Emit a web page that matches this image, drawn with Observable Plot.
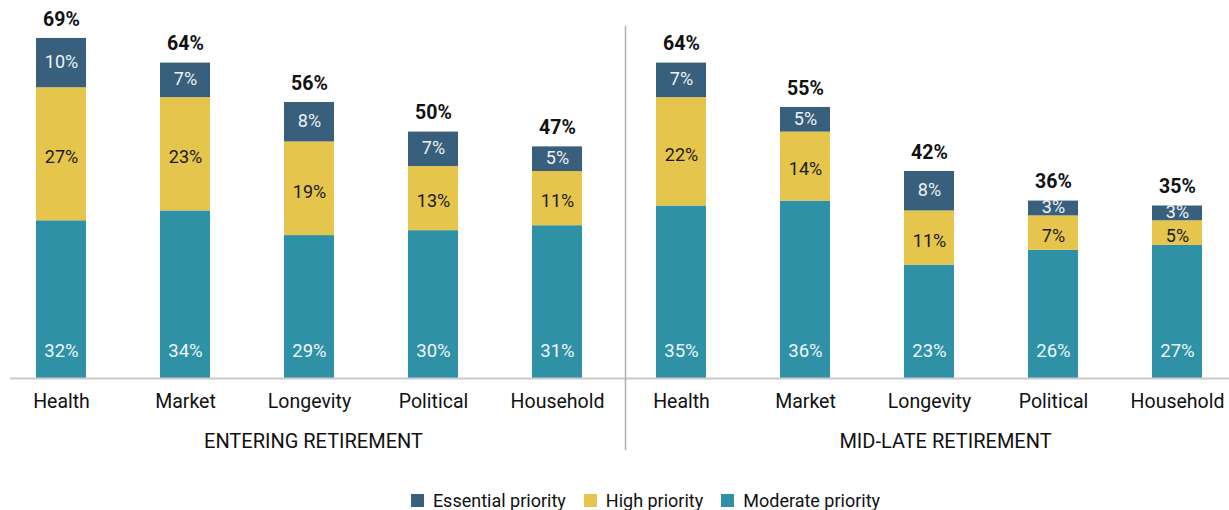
<!DOCTYPE html>
<html><head><meta charset="utf-8">
<script src="https://cdn.jsdelivr.net/npm/d3@7"></script>
<script src="https://cdn.jsdelivr.net/npm/@observablehq/plot@0.6"></script>
<style>
body{margin:0;background:#fff;font-family:Roboto,sans-serif}
#legend{display:flex;justify-content:center;margin-top:24px;padding-left:80px}
</style>
</head><body><div id="chart"></div><div id="legend"></div><script>
const groups = ["ENTERING RETIREMENT", "MID-LATE RETIREMENT"];
const categories = ["Health", "Market", "Longevity", "Political", "Household"];
const series = ["Essential priority", "High priority", "Moderate priority"];
const colors = ["#385f7b", "#e5c54c", "#2e91a6"];
const moderate = [[32, 34, 29, 30, 31], [35, 36, 23, 26, 27]];
const high = [[27, 23, 19, 13, 11], [22, 14, 11, 7, 5]];
const essential = [[10, 7, 8, 7, 5], [7, 5, 8, 3, 3]];
const totals = [[69, 64, 56, 50, 47], [64, 55, 42, 36, 35]];

const key = (g, c) => groups[g] + "|" + categories[c];
const keys = [];
groups.forEach((_, g) => categories.forEach((_, c) => keys.push(key(g, c))));

const rows = [];
const totalRows = [];
groups.forEach((_, g) => categories.forEach((_, c) => {
  rows.push({key: key(g, c), series: series[2], value: moderate[g][c]});
  rows.push({key: key(g, c), series: series[1], value: high[g][c]});
  rows.push({key: key(g, c), series: series[0], value: essential[g][c]});
  totalRows.push({key: key(g, c), total: totals[g][c]});
}));
const order = [series[2], series[1], series[0]];
const labelFill = {"Essential priority": "#eef2f6", "High priority": "#1a1a1a", "Moderate priority": "#eef6f8"};
const stackOpts = {x: "key", y: "value", z: "series", order};

const chart = Plot.plot({
  width: 1229,
  height: 460,
  marginTop: 0,
  marginBottom: 82,
  marginLeft: 10,
  marginRight: 0,
  style: {fontFamily: "Roboto, sans-serif", background: "#fff", color: "#111"},
  x: {domain: keys, range: [-1, 1239], paddingInner: 0.6, paddingOuter: 0.3, axis: null},
  y: {domain: [0, 76.7], axis: null},
  color: {domain: series, range: colors},
  marks: [
    Plot.barY(rows, Plot.stackY({...stackOpts, fill: "series"})),
    Plot.ruleY([0], {stroke: "#c9c9c9", strokeWidth: 2}),
    Plot.textY(rows, Plot.stackY({...stackOpts,
      text: d => d.series === series[0] ? d.value + "%" : "",
      dy: -1, fill: labelFill[series[0]], fontSize: 18})),
    Plot.textY(rows, Plot.stackY({...stackOpts,
      text: d => d.series === series[1] ? d.value + "%" : "",
      dy: 3, fill: labelFill[series[1]], fontSize: 18})),
    Plot.text(rows.filter(d => d.series === series[2]), {x: "key", y: 0, dy: -27,
      text: d => d.value + "%", fill: labelFill[series[2]], fontSize: 18.5}),
    Plot.text(totalRows, {x: "key", y: "total", dy: -19, text: d => d.total + "%",
      fontWeight: "bold", fontSize: 19.5, fill: "#111"}),
    Plot.axisX({tickSize: 0, tickPadding: 16, fontSize: 19.5, label: null,
      tickFormat: k => k.split("|")[1]}),
    Plot.ruleX([key(1, 0)], {dx: -56, y1: 71.5, y2: -14.6, stroke: "#b0b0b0", strokeWidth: 1.5}),
    Plot.text([groups[0]], {x: [key(0, 2)], y: [0], dy: 63, dx: 4, text: d => d, fontSize: 20, fill: "#111"}),
    Plot.text([groups[1]], {x: [key(1, 2)], y: [0], dy: 63, dx: 16, text: d => d, fontSize: 20, fill: "#111"})
  ]
});
document.getElementById("chart").append(chart);

const legend = Plot.legend({color: {domain: series, range: colors}, legend: "swatches",
  swatchSize: 13, swatchWidth: 13, swatchHeight: 13,
  style: {fontSize: "18px", fontFamily: "Roboto, sans-serif", color: "#111"}});
document.getElementById("legend").append(legend);
</script></body></html>
